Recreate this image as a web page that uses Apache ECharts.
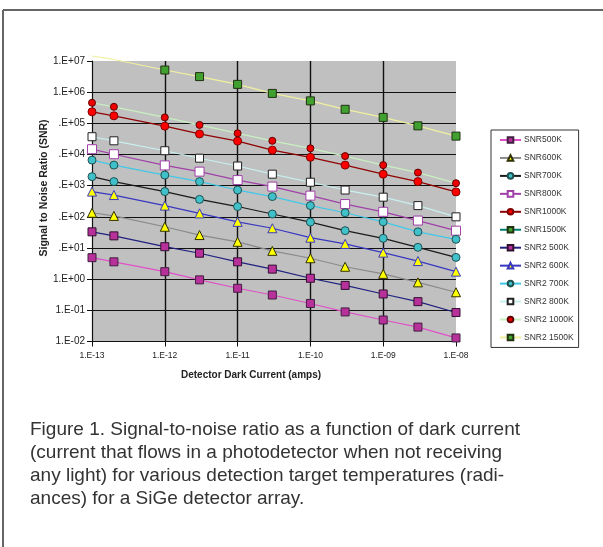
<!DOCTYPE html>
<html>
<head>
<meta charset="utf-8">
<script src="https://cdn.jsdelivr.net/npm/echarts@6/dist/echarts.min.js"></script>
<style>
html,body{margin:0;padding:0;background:#fff;}
#chart{width:603px;height:547px;}
</style>
</head>
<body>
<div id="chart"></div>
<script>
// Dark current (amps) at which each SNR value was computed
const darkCurrent = [1e-13, 2e-13, 1e-12, 3e-12, 1e-11, 3e-11, 1e-10, 3e-10, 1e-9, 3e-9, 1e-8];

const seriesNames = ['SNR500K','SNR600K','SNR700K','SNR800K','SNR1000K','SNR1500K',
                     'SNR2 500K','SNR2 600K','SNR2 700K','SNR2 800K','SNR2 1000K','SNR2 1500K'];

const snr500K   = [4.9, 3.6, 1.74, 0.95, 0.51, 0.31, 0.166, 0.089, 0.049, 0.029, 0.013];
const snr600K   = [135, 107, 48, 26, 15.8, 8.1, 4.7, 2.5, 1.48, 0.79, 0.38];
const snr700K   = [1950, 1350, 645, 363, 214, 123, 68, 36, 20.4, 10.5, 5.0];
const snr800K   = [14800, 10200, 4470, 2820, 1510, 933, 479, 257, 145, 76, 36];
const snr1000K  = [234000, 174000, 81300, 45700, 26900, 13800, 8130, 4570, 2340, 1350, 631];
const snr1500K  = []; // not visible within the plotted range
const snr2_500K  = [33, 24.5, 11, 6.8, 3.6, 2.1, 1.07, 0.63, 0.335, 0.19, 0.085];
const snr2_600K  = [645, 500, 229, 129, 69, 43, 21.4, 13.5, 7.1, 3.8, 1.74];
const snr2_700K  = [6600, 4570, 2190, 1350, 724, 447, 229, 135, 69, 33, 19];
const snr2_800K  = [37200, 27500, 13200, 7600, 4270, 2340, 1290, 724, 427, 229, 100];
const snr2_1000K = [457000, 339000, 155000, 89000, 47900, 27500, 15800, 8900, 4570, 2630, 1200];
const snr2_1500K = [14500000, 11200000, 5130000, 3160000, 1780000, 912000, 525000, 282000, 155000, 83000, 38900];

const yMin = 1e-2, yMax = 1e7;
const xMin = 1e-13, xMax = 1e-8;

const captionLines = [
  'Figure 1. Signal-to-noise ratio as a function of dark current',
  '(current that flows in a photodetector when not receiving',
  'any light) for various detection target temperatures (radi-',
  'ances) for a SiGe detector array.'
];

const allValues = [snr500K, snr600K, snr700K, snr800K, snr1000K, snr1500K,
                   snr2_500K, snr2_600K, snr2_700K, snr2_800K, snr2_1000K, snr2_1500K];

const styles = [
  {line:'#e050c8', sym:'rect', size:8, fill:'#b8309a', border:'#402040'},
  {line:'#8a8a8a', sym:'triangle', size:9, fill:'#ffff00', border:'#303000'},
  {line:'#1a1a1a', sym:'circle', size:8, fill:'#40c0c8', border:'#205050'},
  {line:'#a040a8', sym:'rect', size:9, fill:'#ffffff', border:'#a040a8'},
  {line:'#900000', sym:'circle', size:8, fill:'#ff0000', border:'#800000'},
  {line:'#008070', sym:'rect', size:8, fill:'#40a030', border:'#203010'},
  {line:'#202080', sym:'rect', size:8, fill:'#b8309a', border:'#301030'},
  {line:'#3838c0', sym:'triangle', size:9, fill:'#ffff00', border:'#3838c0'},
  {line:'#40c8e8', sym:'circle', size:8, fill:'#40c0c8', border:'#205050'},
  {line:'#c8f0f0', sym:'rect', size:8, fill:'#ffffff', border:'#202020'},
  {line:'#c8f0c0', sym:'circle', size:7, fill:'#ee0000', border:'#600000'},
  {line:'#f0f0a0', sym:'rect', size:8, fill:'#40a030', border:'#203010'}
];

function fmtE(v) {
  const e = Math.round(Math.log10(v));
  return '1.E' + (e >= 0 ? '+' : '-') + String(Math.abs(e)).padStart(2, '0');
}

const series = seriesNames.map((name, i) => {
  const st = styles[i];
  const vals = allValues[i];
  return {
    name: name,
    type: 'line',
    data: vals.map((v, k) => v > yMax ? {value: [darkCurrent[k], v], symbol: 'none'} : [darkCurrent[k], v]),
    clip: false,
    symbol: st.sym,
    symbolSize: st.size,
    showAllSymbol: true,
    lineStyle: {color: st.line, width: 1.2},
    itemStyle: {color: st.fill, borderColor: st.border, borderWidth: 1},
    emphasis: {disabled: true},
    z: 3 + i
  };
});

const chart = echarts.init(document.getElementById('chart'), null, {renderer: 'canvas'});
chart.setOption({
  animation: false,
  backgroundColor: '#ffffff',
  grid: {left: 92, right: 147, top: 61, bottom: 205.5, show: true, backgroundColor: '#c0c0c0', borderWidth: 0},
  xAxis: {
    type: 'log', logBase: 10, min: xMin, max: xMax, splitNumber: 5,
    axisLine: {show: true, onZero: false, lineStyle: {color: '#111', width: 1.2}},
    axisTick: {show: true, length: 5, lineStyle: {color: '#111'}},
    axisLabel: {formatter: fmtE, color: '#222', fontSize: 8.5, fontFamily: 'Liberation Sans', margin: 10},
    splitLine: {show: true, showMinLine: false, showMaxLine: false, lineStyle: {color: '#111', width: 1.4}},
    minorTick: {show: false}
  },
  yAxis: {
    type: 'log', logBase: 10, min: yMin, max: yMax, splitNumber: 9,
    axisLine: {show: true, onZero: false, lineStyle: {color: '#111', width: 1.2}},
    axisTick: {show: true, length: 5, lineStyle: {color: '#111'}},
    axisLabel: {formatter: fmtE, color: '#222', fontSize: 10, fontFamily: 'Liberation Sans', margin: 7},
    splitLine: {show: true, showMinLine: false, showMaxLine: false, lineStyle: {color: '#111', width: 1.2}}
  },
  legend: {
    orient: 'vertical', left: 491, top: 130,
    data: seriesNames,
    itemWidth: 21, itemHeight: 7, itemGap: 7.95,
    padding: [5, 5, 5, 8],
    borderColor: '#333', borderWidth: 1,
    textStyle: {fontSize: 8.5, color: '#333', fontFamily: 'Liberation Sans', padding: [0, 0, 0, -2], lineHeight: 10},
    selectedMode: false
  },
  series: series,
  graphic: [
    {type: 'line', shape: {x1: 3, y1: 10, x2: 603, y2: 10}, style: {stroke: '#666', lineWidth: 2}},
    {type: 'line', shape: {x1: 3, y1: 10, x2: 3, y2: 547}, style: {stroke: '#666', lineWidth: 2}},
    {type: 'text', x: 251, y: 375, z: 100,
     style: {text: 'Detector Dark Current (amps)', fontSize: 10, fontWeight: 'bold', fill: '#222',
             fontFamily: 'Liberation Sans', align: 'center', verticalAlign: 'middle'}},
    {type: 'text', x: 44, y: 188, rotation: Math.PI / 2, z: 100,
     style: {text: 'Signal to Noise Ratio (SNR)', fontSize: 10.5, fontWeight: 'bold', fill: '#222',
             fontFamily: 'Liberation Sans', align: 'center', verticalAlign: 'middle',
             backgroundColor: '#fff', padding: [9, 4]}},
    {type: 'text', x: 30, y: 418, z: 100,
     style: {text: captionLines.join('\n'), fontSize: 19, lineHeight: 23, fill: '#333',
             fontFamily: 'Liberation Sans', align: 'left', verticalAlign: 'top'}}
  ]
});
</script>
</body>
</html>
